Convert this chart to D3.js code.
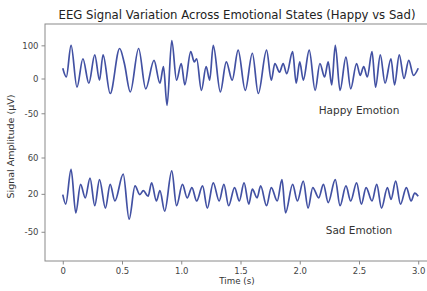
<!DOCTYPE html>
<html>
<head>
<meta charset="utf-8">
<script src="https://cdn.jsdelivr.net/npm/d3@7"></script>
<style>
  body { margin: 0; background: #fff; }
  svg text { font-family: "DejaVu Sans", sans-serif; }
</style>
</head>
<body>
<svg width="427" height="291"></svg>
<script>
// values (extrema of each trace, time in s, amplitude in uV)
const happyTime = [0, 0.03, 0.07, 0.12, 0.17, 0.22, 0.27, 0.31, 0.34, 0.40, 0.48, 0.52, 0.57, 0.64, 0.70, 0.77,
  0.82, 0.85, 0.88, 0.92, 0.96, 1.00, 1.03, 1.08, 1.11, 1.13, 1.17, 1.21, 1.24, 1.27, 1.33, 1.38, 1.43, 1.48,
  1.54, 1.60, 1.65, 1.72, 1.76, 1.79, 1.83, 1.86, 1.89, 1.94, 1.97, 2.00, 2.03, 2.08, 2.13, 2.17, 2.21, 2.24,
  2.27, 2.30, 2.34, 2.39, 2.43, 2.48, 2.51, 2.54, 2.57, 2.61, 2.64, 2.68, 2.72, 2.77, 2.80, 2.84, 2.88, 2.92,
  2.96, 3.00];
const happyValue = [5, -6, 34, -19, 17, -14, 22, -10, 22, -27, 30, 11, -25, 30, -21, 15,
  -14, 7, -42, 40, -10, 11, -16, 26, 13, 17, -23, 7, -10, 34, -25, 13, -10, 28,
  -23, 24, -27, 28, -10, 11, 0, 11, -2, 26, -14, 13, -10, 28, -23, 11, -6, 13,
  -16, 34, -23, 19, -21, 11, -4, 7, -6, 26, -19, 22, -14, 17, -16, 22, -8, 15,
  -4, 5];

const sadTime = [0, 0.025, 0.07, 0.11, 0.15, 0.19, 0.23, 0.27, 0.31, 0.36, 0.40, 0.44, 0.51, 0.56, 0.61, 0.65,
  0.68, 0.72, 0.75, 0.79, 0.82, 0.86, 0.92, 0.96, 1.01, 1.05, 1.09, 1.13, 1.18, 1.22, 1.27, 1.32, 1.36, 1.40,
  1.45, 1.49, 1.53, 1.57, 1.60, 1.64, 1.67, 1.72, 1.76, 1.81, 1.85, 1.88, 1.94, 1.98, 2.03, 2.07, 2.11, 2.16,
  2.20, 2.24, 2.30, 2.34, 2.39, 2.43, 2.48, 2.52, 2.56, 2.61, 2.65, 2.69, 2.74, 2.77, 2.81, 2.85, 2.90, 2.94,
  2.97, 3.00];
const sadValue = [-2, -14, 30, -25, 11, -6, 19, -16, 17, -19, 11, -10, 24, -33, 9, -2,
  3, -4, 13, -10, 3, -23, 28, -16, 11, -6, 7, -10, 9, -19, 13, -10, 11, -16,
  7, -10, 13, -14, 5, -6, 9, -16, 7, -10, 17, -25, 11, -10, 15, -19, 7, -6,
  11, -12, 17, -16, 9, -10, 13, -14, 7, -10, 11, -19, 7, -8, 15, -14, 7, -10,
  0, -4];

// the two traces are stacked on one axis, each with its own tick labels
const happyOffset = 89;
const sadOffset = -64;
const yTickPos = [123, 81, 37, -19, -65, -113];
const yTickLabels = ["100", "0", "-50", "60", "20", "-50"];
const xTicks = [0, 0.5, 1.0, 1.5, 2.0, 2.5, 3.0];
const xTickLabels = ["0", "0.5", "1.0", "1.5", "2.0", "2.5", "3.0"];

const svg = d3.select("svg");
const plotLeft = 45, plotRight = 436, plotTop = 24, plotBottom = 261;

const x = d3.scaleLinear().domain([-0.15, 3.15]).range([plotLeft, plotRight]);
const y = d3.scaleLinear().domain([-150, 150]).range([plotBottom, plotTop]);

// frame
svg.append("rect")
  .attr("x", plotLeft).attr("y", plotTop)
  .attr("width", plotRight - plotLeft).attr("height", plotBottom - plotTop)
  .attr("fill", "none")
  .attr("stroke", "#8a8a8a")
  .attr("stroke-width", 1);

const xAxis = d3.axisBottom(x)
  .tickValues(xTicks)
  .tickFormat((d, i) => xTickLabels[i])
  .tickSize(3.5)
  .tickPadding(3);
const gx = svg.append("g").attr("transform", `translate(0,${plotBottom})`).call(xAxis);

const yAxis = d3.axisLeft(y)
  .tickValues(yTickPos)
  .tickFormat((d, i) => yTickLabels[i])
  .tickSize(3.5)
  .tickPadding(3);
const gy = svg.append("g").attr("transform", `translate(${plotLeft},0)`).call(yAxis);

[gx, gy].forEach(g => {
  g.select(".domain").remove();
  g.selectAll(".tick line").attr("stroke", "#8a8a8a");
  g.selectAll(".tick text")
    .attr("fill", "#444")
    .style("font-size", "8.5px")
    .style("font-family", "DejaVu Sans, sans-serif");
});

const line = d3.line()
  .x(d => x(d[0]))
  .y(d => y(d[1]))
  .curve(d3.curveMonotoneX);

const happy = happyTime.map((t, i) => [t, happyValue[i] + happyOffset]);
const sad = sadTime.map((t, i) => [t, sadValue[i] + sadOffset]);

[happy, sad].forEach(series => {
  svg.append("path")
    .datum(series)
    .attr("fill", "none")
    .attr("stroke", "#4251a3")
    .attr("stroke-width", 1.7)
    .attr("stroke-linejoin", "round")
    .attr("d", line);
});

// annotations
svg.append("text")
  .attr("x", x(2.5)).attr("y", 114)
  .attr("text-anchor", "middle")
  .attr("fill", "#333")
  .style("font-size", "10.5px")
  .text("Happy Emotion");

svg.append("text")
  .attr("x", x(2.5)).attr("y", 234)
  .attr("text-anchor", "middle")
  .attr("fill", "#333")
  .style("font-size", "10.5px")
  .text("Sad Emotion");

// title and axis labels
svg.append("text")
  .attr("x", 237).attr("y", 19)
  .attr("text-anchor", "middle")
  .attr("fill", "#222")
  .style("font-size", "11.7px")
  .text("EEG Signal Variation Across Emotional States (Happy vs Sad)");

svg.append("text")
  .attr("x", 237).attr("y", 284)
  .attr("text-anchor", "middle")
  .attr("fill", "#333")
  .style("font-size", "8.7px")
  .text("Time (s)");

svg.append("text")
  .attr("transform", `translate(14,${(plotTop + plotBottom) / 2 + 4}) rotate(-90)`)
  .attr("text-anchor", "middle")
  .attr("fill", "#333")
  .style("font-size", "9.5px")
  .text("Signal Amplitude (µV)");
</script>
</body>
</html>
